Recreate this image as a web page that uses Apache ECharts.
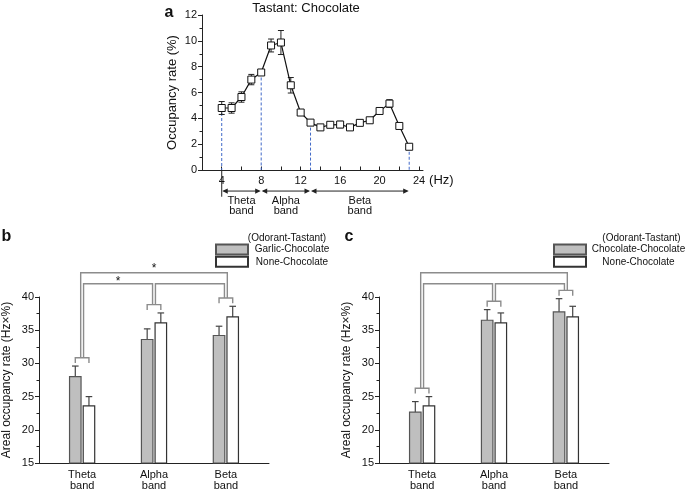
<!DOCTYPE html>
<html><head><meta charset="utf-8">
<script src="https://cdn.jsdelivr.net/npm/echarts@6/dist/echarts.min.js"></script>
<style>html,body{margin:0;padding:0;background:#fff}#chart{width:685px;height:492px}</style>
</head><body><div id="chart"></div>
<script>
// ---------- Panel a data ----------
const freqHz = [4,5,6,7,8,9,10,11,12,13,14,15,16,17,18,19,20,21,22,23];
const occupancyRate = [4.8,4.8,5.65,7.0,7.55,9.64,9.87,6.56,4.45,3.67,3.3,3.5,3.52,3.3,3.65,3.85,4.57,5.14,3.41,1.8];
const occupancyErr = [0.5,0.4,0.4,0.4,0.2,0.5,0.93,0.6,0.2,0.15,0.15,0.2,0.25,0.15,0.2,0.15,0.2,0.3,0.15,0.1];
const freqLabelTicks = [4,8,12,16,20,24];
const freqMinorTicks = [6,10,14,18,22];
const bandEdgesHz = [4,8,13,23];
const bandNames = ['Theta\nband','Alpha\nband','Beta\nband'];
// ---------- Panels b, c data ----------
const bandPos = [1,2,3];
const garlicChoc = [28.0,33.6,34.2];
const garlicChocErr = [1.6,1.6,1.4];
const noneChocB = [23.6,36.1,37.0];
const noneChocBErr = [1.4,1.5,1.6];
const chocChoc = [22.65,36.5,37.75];
const chocChocErr = [1.6,1.6,2.0];
const noneChocC = [23.6,36.1,37.0];
const noneChocCErr = [1.4,1.5,1.6];
// comparisons: [groupA, groupB, legSideA, legSideB, level, label]
const comparisonsB = [[0,1,1,-1,0,'*'],[1,2,1,-1,0,''],[0,2,-1,1,1,'*']];
const comparisonsC = [[0,1,1,-1,0,''],[1,2,1,-1,0,''],[0,2,-1,1,1,'']];

const FONT = 'Arial, "Liberation Sans", sans-serif';
const AREA_MIN = 15;
const BAR_OFF = 0.095, BAR_HALF = 0.08, CAP = 3.3;
const BRACKET_GAP = 1.25, BRACKET_LEG = 0.8, LEG_SIDE = 0.02;
const LEVELS = [42.0, 43.65];
const BRACKET_COLOR = '#8c8c8c';

function barSeries(name, vals, offset, fill, stroke, gi) {
  return {
    type: 'custom', name, xAxisIndex: gi, yAxisIndex: gi, clip: false, z: 2,
    itemStyle: { color: fill, borderColor: stroke, borderWidth: 1.2 },
    data: bandPos.map((p, i) => [p, vals[i]]),
    encode: { x: 0, y: 1 },
    renderItem: (params, api) => {
      const x = api.value(0) + offset, v = api.value(1);
      const p0 = api.coord([x - BAR_HALF, v]);
      const p1 = api.coord([x + BAR_HALF, AREA_MIN]);
      return { type: 'rect', shape: { x: p0[0], y: p0[1], width: p1[0] - p0[0], height: p1[1] - p0[1] },
        style: { fill, stroke, lineWidth: 1.2 } };
    }
  };
}
function errSeriesUp(vals, errs, offset, gi) {
  return {
    type: 'custom', xAxisIndex: gi, yAxisIndex: gi, clip: false, silent: true, z: 1,
    data: bandPos.map((p, i) => [p, vals[i], errs[i]]),
    encode: { x: 0, y: 1 },
    renderItem: (params, api) => {
      const x = api.value(0) + offset, v = api.value(1), e = api.value(2);
      const a = api.coord([x, v]), b = api.coord([x, v + e]);
      const st = { stroke: '#444', lineWidth: 1.2 };
      return { type: 'group', children: [
        { type: 'line', shape: { x1: a[0], y1: a[1], x2: b[0], y2: b[1] }, style: st },
        { type: 'line', shape: { x1: b[0] - CAP, y1: b[1], x2: b[0] + CAP, y2: b[1] }, style: st }
      ]};
    }
  };
}
function bracketSeries(g, ge, w, we, comps, gi) {
  const tops = bandPos.map((p, i) => Math.max(g[i] + ge[i], w[i] + we[i]) + BRACKET_GAP);
  const st = { stroke: BRACKET_COLOR, lineWidth: 1.4, fill: null };
  return [{
    type: 'custom', xAxisIndex: gi, yAxisIndex: gi, clip: false, silent: true, z: 3,
    data: bandPos.map((p, i) => [p, tops[i]]),
    encode: { x: 0, y: 1 },
    renderItem: (params, api) => {
      const x = api.value(0), y = api.value(1);
      const pts = [api.coord([x - BAR_OFF, y - BRACKET_LEG]), api.coord([x - BAR_OFF, y]),
                   api.coord([x + BAR_OFF, y]), api.coord([x + BAR_OFF, y - BRACKET_LEG])];
      return { type: 'polyline', shape: { points: pts }, style: st };
    }
  }, {
    type: 'custom', xAxisIndex: gi, yAxisIndex: gi, clip: false, silent: true, z: 3,
    data: comps.map(c => [bandPos[c[0]], LEVELS[c[4]]]),
    encode: { x: 0, y: 1 },
    renderItem: (params, api) => {
      const c = comps[params.dataIndex];
      const xa = bandPos[c[0]] + c[2] * LEG_SIDE, xb = bandPos[c[1]] + c[3] * LEG_SIDE;
      const yl = LEVELS[c[4]];
      const pts = [api.coord([xa, tops[c[0]]]), api.coord([xa, yl]), api.coord([xb, yl]), api.coord([xb, tops[c[1]]])];
      const children = [{ type: 'polyline', shape: { points: pts }, style: st }];
      if (c[5]) {
        const m = api.coord([(bandPos[c[0]] + bandPos[c[1]]) / 2, yl]);
        children.push({ type: 'text', x: m[0], y: m[1] - (c[4] ? 4.5 : 2.5),
          style: { text: c[5], fontSize: 12, fontFamily: FONT, fill: '#111', align: 'center', verticalAlign: 'middle' } });
      }
      return { type: 'group', children };
    }
  }];
}

const axisCommon = {
  axisLine: { show: true, lineStyle: { color: '#222', width: 1 } },
  splitLine: { show: false }
};
function areaX(gi) {
  return Object.assign({}, axisCommon, {
    gridIndex: gi, type: 'value', min: 0.4, max: 3.6,
    axisTick: { show: false },
    axisLabel: { customValues: bandPos, formatter: v => bandNames[bandPos.indexOf(v)] || '',
      fontSize: 11, lineHeight: 11.5, margin: 6, color: '#111', fontFamily: FONT }
  });
}
function areaY(gi) {
  return Object.assign({}, axisCommon, {
    gridIndex: gi, type: 'value', min: AREA_MIN, max: 40, interval: 5,
    axisTick: { show: true, length: 4, lineStyle: { color: '#222' } },
    minorTick: { show: true, splitNumber: 2, length: 2.5, lineStyle: { color: '#222' } },
    axisLabel: { fontSize: 11, margin: 5, color: '#111', fontFamily: FONT },
    name: 'Areal occupancy rate (Hz×%)', nameLocation: 'middle', nameGap: 26,
    nameTextStyle: { fontSize: 12, color: '#111', fontFamily: FONT }
  });
}

const ARROW_Y = -1.63, LABEL_Y = -2.8, START_TICK_Y = -2.07;

const option = {
  animation: false,
  backgroundColor: '#fff',
  grid: [
    { left: 202, top: 15, width: 221, height: 155 },
    { left: 39, top: 297, width: 230, height: 166 },
    { left: 379, top: 297, width: 230, height: 166 }
  ],
  xAxis: [
    Object.assign({}, axisCommon, {
      gridIndex: 0, type: 'value', min: 2, max: 24.4,
      axisTick: { show: true, inside: true, length: 3.5, customValues: freqLabelTicks.concat(freqMinorTicks), lineStyle: { color: '#222' } },
      axisLabel: { customValues: freqLabelTicks, fontSize: 11, margin: 5, color: '#111', fontFamily: FONT },
      name: '(Hz)', nameLocation: 'end', nameGap: 6,
      nameTextStyle: { fontSize: 13, color: '#111', fontFamily: FONT, verticalAlign: 'top', padding: [4, 0, 0, 0] }
    }),
    areaX(1), areaX(2)
  ],
  yAxis: [
    Object.assign({}, axisCommon, {
      gridIndex: 0, type: 'value', min: 0, max: 12, interval: 2,
      axisTick: { show: true, length: 4, lineStyle: { color: '#222' } },
      minorTick: { show: true, splitNumber: 2, length: 2.5, lineStyle: { color: '#222' } },
      axisLabel: { fontSize: 11, margin: 5, color: '#111', fontFamily: FONT },
      name: 'Occupancy rate (%)', nameLocation: 'middle', nameGap: 23,
      nameTextStyle: { fontSize: 13, color: '#111', fontFamily: FONT }
    }),
    areaY(1), areaY(2)
  ],
  legend: [
    { data: ['Garlic-Chocolate', 'None-Chocolate'], orient: 'vertical', left: 215, top: 243.5,
      itemWidth: 32, itemHeight: 10, itemGap: 0.3, padding: 0, icon: 'rect', selectedMode: false,
      formatter: n => '{t|' + n + '}',
      textStyle: { rich: { t: { width: 78, align: 'center', fontSize: 10, lineHeight: 13, color: '#111', fontFamily: FONT } } } },
    { data: ['Chocolate-Chocolate', 'None-Chocolate'], orient: 'vertical', left: 553, top: 243.5,
      itemWidth: 32, itemHeight: 10, itemGap: 0.3, padding: 0, icon: 'rect', selectedMode: false,
      formatter: n => '{t|' + n + '}',
      textStyle: { rich: { t: { width: 95, align: 'center', fontSize: 10, lineHeight: 13, color: '#111', fontFamily: FONT } } } }
  ],
  graphic: [
    { type: 'text', x: 306, y: 8, style: { text: 'Tastant: Chocolate', font: '13px ' + FONT, fill: '#111', align: 'center', verticalAlign: 'middle' } },
    { type: 'text', x: 169, y: 13, style: { text: 'a', font: 'bold 16px ' + FONT, fill: '#111', align: 'center', verticalAlign: 'middle' } },
    { type: 'text', x: 6.5, y: 237, style: { text: 'b', font: 'bold 16px ' + FONT, fill: '#111', align: 'center', verticalAlign: 'middle' } },
    { type: 'text', x: 349, y: 237, style: { text: 'c', font: 'bold 16px ' + FONT, fill: '#111', align: 'center', verticalAlign: 'middle' } },
    { type: 'text', x: 287, y: 238.5, style: { text: '(Odorant-Tastant)', font: '10px ' + FONT, fill: '#111', align: 'center', verticalAlign: 'middle' } },
    { type: 'text', x: 641.5, y: 238.5, style: { text: '(Odorant-Tastant)', font: '10px ' + FONT, fill: '#111', align: 'center', verticalAlign: 'middle' } }
  ],
  series: [
    // panel a: dashed band-edge guides
    {
      type: 'custom', xAxisIndex: 0, yAxisIndex: 0, silent: true, clip: false, z: 1,
      data: bandEdgesHz.map(f => [f, occupancyRate[freqHz.indexOf(f)]]),
      encode: { x: 0, y: 1 },
      renderItem: (params, api) => {
        const a = api.coord([api.value(0), api.value(1)]), b = api.coord([api.value(0), 0]);
        return { type: 'line', shape: { x1: a[0], y1: a[1], x2: b[0], y2: b[1] },
          style: { stroke: '#4169c8', lineWidth: 1, lineDash: [3, 2] } };
      }
    },
    // panel a: band arrows and labels
    {
      type: 'custom', xAxisIndex: 0, yAxisIndex: 0, silent: true, clip: false, z: 1,
      data: bandEdgesHz.slice(0, -1).map((f, i) => [f, bandEdgesHz[i + 1]]),
      encode: { x: 0 },
      renderItem: (params, api) => {
        const x1 = api.value(0), x2 = api.value(1);
        const p1 = api.coord([x1, ARROW_Y]), p2 = api.coord([x2, ARROW_Y]);
        const lab = api.coord([(x1 + x2) / 2, LABEL_Y]);
        const L = 6, H = 2.6, col = '#222';
        const children = [
          { type: 'line', shape: { x1: p1[0] + 2, y1: p1[1], x2: p2[0] - 2, y2: p2[1] }, style: { stroke: col, lineWidth: 1 } },
          { type: 'polygon', shape: { points: [[p1[0] + 0.5, p1[1]], [p1[0] + L, p1[1] - H], [p1[0] + L, p1[1] + H]] }, style: { fill: col } },
          { type: 'polygon', shape: { points: [[p2[0] - 0.5, p2[1]], [p2[0] - L, p2[1] - H], [p2[0] - L, p2[1] + H]] }, style: { fill: col } },
          { type: 'text', x: lab[0], y: lab[1], style: { text: bandNames[params.dataIndex], fontSize: 11, lineHeight: 10.5, fontFamily: FONT, fill: '#111', align: 'center', verticalAlign: 'middle' } }
        ];
        if (params.dataIndex === 0) {
          const t0 = api.coord([x1, 0]), t1 = api.coord([x1, START_TICK_Y]);
          children.push({ type: 'line', shape: { x1: t0[0], y1: t0[1], x2: t1[0], y2: t1[1] }, style: { stroke: col, lineWidth: 1 } });
        }
        return { type: 'group', children };
      }
    },
    // panel a: error bars
    {
      type: 'custom', xAxisIndex: 0, yAxisIndex: 0, silent: true, clip: false, z: 2,
      data: freqHz.map((f, i) => [f, occupancyRate[i], occupancyErr[i]]),
      encode: { x: 0, y: 1 },
      renderItem: (params, api) => {
        const x = api.value(0), v = api.value(1), e = api.value(2);
        const a = api.coord([x, v - e]), b = api.coord([x, v + e]);
        const st = { stroke: '#222', lineWidth: 1 };
        return { type: 'group', children: [
          { type: 'line', shape: { x1: a[0], y1: a[1], x2: b[0], y2: b[1] }, style: st },
          { type: 'line', shape: { x1: a[0] - 3, y1: a[1], x2: a[0] + 3, y2: a[1] }, style: st },
          { type: 'line', shape: { x1: b[0] - 3, y1: b[1], x2: b[0] + 3, y2: b[1] }, style: st }
        ]};
      }
    },
    // panel a: mean line
    {
      type: 'line', name: 'Chocolate', xAxisIndex: 0, yAxisIndex: 0, z: 3,
      data: freqHz.map((f, i) => [f, occupancyRate[i]]),
      symbol: 'rect', symbolSize: 7,
      itemStyle: { color: '#fff', borderColor: '#111', borderWidth: 1 },
      lineStyle: { color: '#111', width: 1.2 }
    },
    // panel b
    errSeriesUp(garlicChoc, garlicChocErr, -BAR_OFF, 1),
    errSeriesUp(noneChocB, noneChocBErr, BAR_OFF, 1),
    barSeries('Garlic-Chocolate', garlicChoc, -BAR_OFF, '#bfbfbf', '#555', 1),
    barSeries('None-Chocolate', noneChocB, BAR_OFF, '#ffffff', '#333', 1),
    ...bracketSeries(garlicChoc, garlicChocErr, noneChocB, noneChocBErr, comparisonsB, 1),
    // panel c
    errSeriesUp(chocChoc, chocChocErr, -BAR_OFF, 2),
    errSeriesUp(noneChocC, noneChocCErr, BAR_OFF, 2),
    barSeries('Chocolate-Chocolate', chocChoc, -BAR_OFF, '#bfbfbf', '#555', 2),
    barSeries('None-Chocolate', noneChocC, BAR_OFF, '#ffffff', '#333', 2),
    ...bracketSeries(chocChoc, chocChocErr, noneChocC, noneChocCErr, comparisonsC, 2)
  ]
};
const chart = echarts.init(document.getElementById('chart'), null, { renderer: 'canvas' });
chart.setOption(option);
</script>
</body></html>
